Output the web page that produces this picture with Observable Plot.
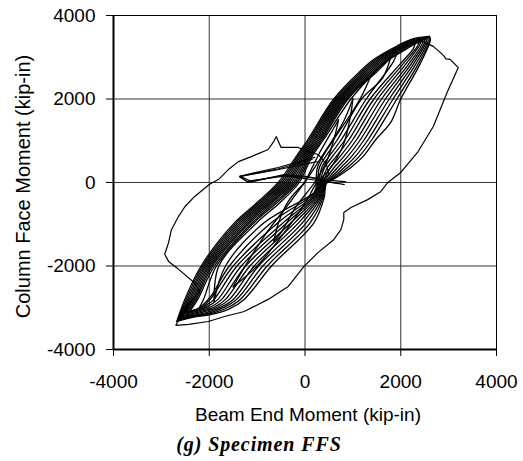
<!DOCTYPE html>
<html>
<head>
<meta charset="utf-8">
<script src="https://cdn.jsdelivr.net/npm/d3@7"></script>
<script src="https://cdn.jsdelivr.net/npm/@observablehq/plot@0.6"></script>
<style>
  html, body { margin: 0; padding: 0; background: #fff; }
</style>
</head>
<body>
<div id="chart"></div>
<script>
// Tick values and text
const xTicks = [-4000, -2000, 0, 2000, 4000];
const yTicks = [-4000, -2000, 0, 2000, 4000];
const xLabel = "Beam End Moment (kip-in)";
const yLabel = "Column Face Moment (kip-in)";
const caption = "(g) Specimen FFS";

// Hysteresis cycles [beam end moment, column face moment] in kip-in
const loopA = [[-2680,-3330],[-2510,-2800],[-2170,-2000],[-1470,-960],[-1000,-480],[-560,0],[-180,630],[60,1030],[600,2000],[1120,2630],[1440,2950],[1920,3270],[2250,3440],[2600,3500],[2620,3420],[2400,2830],[2000,2000],[1790,1440],[1480,1030],[1210,620],[960,360],[600,80],[450,-20],[400,-360],[190,-960],[-700,-2000],[-1270,-2800],[-1600,-3040],[-1950,-3160],[-2300,-3220],[-2680,-3330]];
const loopB = [[-2660,-3300],[-2480,-2800],[-2140,-2000],[-1430,-960],[-960,-480],[-520,0],[-150,630],[90,1030],[630,2000],[1160,2630],[1480,2950],[1940,3260],[2260,3420],[2580,3480],[2600,3400],[2360,2830],[1920,2000],[1400,1030],[1130,620],[890,360],[560,70],[430,-30],[380,-350],[110,-960],[-790,-2000],[-1350,-2800],[-1680,-3030],[-2000,-3150],[-2330,-3210],[-2660,-3300]];
const loopC = [[-2640,-3270],[-2450,-2800],[-2110,-2000],[-1390,-960],[-920,-480],[-480,0],[-120,630],[120,1030],[660,2000],[1200,2630],[1520,2950],[1960,3250],[2270,3400],[2560,3460],[2570,3380],[2310,2830],[1840,2000],[1320,1030],[1050,620],[820,360],[520,60],[410,-40],[360,-340],[30,-960],[-880,-2000],[-1430,-2800],[-1750,-3020],[-2050,-3140],[-2350,-3200],[-2640,-3270]];
const loopD = [[-2620,-3250],[-2420,-2800],[-2080,-2000],[-1350,-960],[-880,-480],[-440,0],[-90,630],[150,1030],[690,2000],[1240,2630],[1560,2950],[1980,3240],[2280,3390],[2530,3440],[2530,3360],[2260,2830],[1760,2000],[1240,1030],[970,620],[750,360],[480,50],[390,-50],[340,-330],[-50,-960],[-970,-2000],[-1500,-2800],[-1800,-3010],[-2100,-3130],[-2380,-3190],[-2620,-3250]];
const loopE = [[-2600,-3220],[-2390,-2800],[-2050,-2000],[-1310,-960],[-840,-480],[-400,0],[-60,630],[180,1030],[720,2000],[1280,2630],[1600,2950],[2000,3230],[2290,3370],[2500,3420],[2490,3330],[2210,2830],[1680,2000],[1160,1030],[890,620],[680,360],[440,40],[370,-60],[320,-320],[-130,-960],[-1060,-2000],[-1580,-2800],[-1850,-3000],[-2150,-3110],[-2400,-3170],[-2600,-3220]];
const loopF = [[-2570,-3190],[-2360,-2800],[-2020,-2000],[-1270,-960],[-800,-480],[-360,0],[-30,630],[210,1030],[750,2000],[1320,2630],[1640,2950],[2020,3220],[2280,3350],[2460,3400],[2440,3300],[2160,2830],[1600,2000],[1080,1030],[810,620],[610,360],[400,30],[350,-70],[300,-310],[-210,-960],[-1150,-2000],[-1660,-2800],[-1900,-2990],[-2180,-3090],[-2400,-3150],[-2570,-3190]];
const loopG = [[-2540,-3160],[-2330,-2800],[-1990,-2000],[-1230,-960],[-760,-480],[-320,0],[0,630],[240,1030],[780,2000],[1360,2630],[1680,2950],[2040,3210],[2270,3330],[2420,3380],[2390,3280],[2100,2830],[1520,2000],[1000,1030],[730,620],[540,360],[370,20],[330,-80],[280,-300],[-290,-960],[-1240,-2000],[-1740,-2800],[-1950,-2970],[-2200,-3070],[-2400,-3120],[-2540,-3160]];
const loopH = [[-2500,-3130],[-2300,-2800],[-1960,-2000],[-1190,-960],[-720,-480],[-280,0],[30,630],[270,1030],[810,2000],[1400,2630],[1720,2950],[2060,3190],[2250,3310],[2380,3350],[2340,3250],[2040,2830],[1440,2000],[920,1030],[650,620],[470,360],[340,10],[310,-90],[260,-290],[-370,-960],[-1330,-2000],[-1820,-2800],[-2000,-2950],[-2220,-3050],[-2380,-3100],[-2500,-3130]];
const loopI = [[-2450,-3100],[-2270,-2800],[-1930,-2000],[-1150,-960],[-680,-480],[-240,0],[60,630],[300,1030],[840,2000],[1440,2630],[1760,2950],[2080,3170],[2300,3320],[2260,3200],[1980,2830],[1360,2000],[840,1030],[570,620],[410,360],[310,0],[290,-100],[240,-280],[-450,-960],[-1420,-2000],[-1900,-2800],[-2050,-2930],[-2250,-3030],[-2450,-3100]];
const loopJ = [[-2410,-3090],[-2240,-2800],[-1890,-2000],[-1100,-960],[-630,-480],[-200,0],[90,630],[330,1030],[870,2000],[1480,2630],[1930,3140],[1850,2900],[1280,2000],[760,1030],[500,620],[350,360],[290,-10],[270,-110],[220,-270],[-560,-960],[-1500,-2000],[-1980,-2800],[-2150,-2980],[-2410,-3090]];
const loopK = [[-2220,-3020],[-2120,-2800],[-1850,-2000],[-1060,-960],[-580,-480],[-160,0],[120,630],[360,1030],[900,2000],[1500,2700],[1790,3000],[1620,2500],[1180,2000],[680,1030],[430,620],[300,360],[260,-20],[250,-120],[200,-260],[-700,-960],[-1580,-2000],[-1950,-2700],[-2100,-2900],[-2220,-3020]];
const loopL = [[-1900,-2850],[-1800,-2000],[-1000,-960],[-520,-480],[-120,0],[150,630],[390,1030],[960,2000],[1370,2540],[1150,2000],[600,1030],[370,620],[260,360],[230,-30],[230,-130],[180,-250],[-850,-960],[-1660,-2000],[-1900,-2850]];
const loopM = [[-1500,-2500],[-1250,-2000],[-800,-1200],[-300,-450],[50,100],[450,800],[800,1450],[1000,2000],[950,1600],[800,900],[500,300],[250,0],[0,-500],[-500,-1300],[-1000,-2000],[-1500,-2500]];
const loopN = [[0,0],[300,700],[600,1300],[700,1500],[620,1100],[450,500],[200,0],[-200,-600],[-500,-1200],[-650,-1400],[-550,-950],[-350,-450],[0,0]];
const finalBranch = [[1800,3150],[2150,3350],[2450,3380],[2680,3260],[2830,3110],[2910,3020],[2940,2960],[3030,2950],[3100,2870],[3200,2750],[2970,2160],[2680,1340],[2350,720],[2000,240],[1730,0],[1580,-220],[1310,-410],[960,-600],[810,-720],[810,-890],[750,-1130],[600,-1370],[270,-1680],[-20,-2010],[-350,-2490],[-770,-2800],[-1270,-3090],[-1680,-3210],[-2020,-3330],[-2430,-3400],[-2700,-3420],[-2450,-2950],[-2200,-2610]];
const leftLoop = [[-2200,-2610],[-2310,-2400],[-2640,-2080],[-2850,-1890],[-2930,-1720],[-2850,-1440],[-2790,-1130],[-2640,-810],[-2510,-580],[-2310,-340],[-2000,-50],[-1810,70],[-1600,310],[-1390,500],[-1120,620],[-770,790],[-665,960],[-600,1100],[-500,840],[-145,840],[60,740],[270,670],[330,600],[450,420],[500,200],[300,0]];
const flagA = [[200,600],[-200,480],[-560,360],[-1370,150],[-1180,0],[-440,190],[0,150],[500,50],[850,20]];
const flagB = [[150,550],[-550,330],[-1370,140],[-1200,20],[-450,170],[100,120],[600,0],[820,-50]];
const flagC = [[250,500],[-600,300],[-1350,150],[-1150,40],[-400,160],[200,60],[700,-30]];

// Smooth cycles are drawn branch by branch (cut at their peaks) so the tips stay sharp
const cycles = [loopN, loopM, loopL, loopK, loopJ, loopI, loopH, loopG, loopF, loopE, loopD, loopC, loopB, loopA];
const jagged = [finalBranch, leftLoop, flagA, flagB, flagC];

const smoothRows = [];
cycles.forEach((pts, k) => {
  const ys = pts.map(p => p[1]);
  const iMax = ys.indexOf(Math.max(...ys));
  const iMin = ys.indexOf(Math.min(...ys));
  const cuts = Array.from(new Set([0, iMax, iMin, pts.length - 1])).sort((a, b) => a - b);
  for (let c = 0; c < cuts.length - 1; c++) {
    for (let i = cuts[c]; i <= cuts[c + 1]; i++) {
      smoothRows.push({x: pts[i][0], y: pts[i][1], k: k + "-" + c});
    }
  }
});
const jaggedRows = jagged.flatMap((pts, k) => pts.map(([x, y]) => ({x, y, k})));

const fmt = d => String(d);

const chart = Plot.plot({
  width: 523,
  height: 461,
  marginLeft: 113,
  marginRight: 27,
  marginTop: 15,
  marginBottom: 112,
  style: {fontFamily: "'Liberation Sans', Arial, sans-serif", fontSize: "19px", background: "#fff", color: "#000"},
  x: {domain: [-4000, 4000], ticks: xTicks, tickFormat: fmt},
  y: {domain: [-4000, 4000], ticks: yTicks, tickFormat: fmt},
  marks: [
    Plot.gridX(xTicks, {stroke: "#333", strokeOpacity: 1, strokeWidth: 1}),
    Plot.gridY(yTicks, {stroke: "#333", strokeOpacity: 1, strokeWidth: 1}),
    Plot.frame({stroke: "#000", strokeWidth: 1}),
    Plot.ruleX([-4000], {stroke: "#000", strokeWidth: 2}),
    Plot.ruleY([-4000], {stroke: "#000", strokeWidth: 2}),
    Plot.line(smoothRows, {x: "x", y: "y", z: "k", stroke: "#000", strokeWidth: 1.3, curve: "catmull-rom"}),
    Plot.line(jaggedRows, {x: "x", y: "y", z: "k", stroke: "#000", strokeWidth: 1.2, strokeLinejoin: "miter"}),
    Plot.axisX(xTicks, {tickSize: 7, tickPadding: 18, fontSize: 19, tickFormat: fmt, label: null, stroke: "#000"}),
    Plot.axisY(yTicks, {tickSize: 7, tickPadding: 11, fontSize: 19, tickFormat: fmt, label: null, stroke: "#000"}),
    Plot.text([xLabel], {frameAnchor: "bottom", lineAnchor: "middle", dx: 3, dy: 65, fontSize: 19, fill: "#000"}),
    Plot.text([yLabel], {frameAnchor: "left", textAnchor: "middle", lineAnchor: "middle", dx: -90, dy: 4, rotate: -90, fontSize: 20, fill: "#000"}),
    Plot.text([caption], {frameAnchor: "bottom", textAnchor: "middle", lineAnchor: "middle", dx: -46, dy: 95, fontFamily: "'Liberation Serif', 'Times New Roman', serif", fontWeight: "bold", fontStyle: "italic", fontSize: 20, fill: "#000"})
  ]
});
d3.select(chart).selectAll("text").filter(function() { return this.textContent === caption; }).attr("letter-spacing", "0.9px");
document.getElementById("chart").appendChild(chart);
</script>
</body>
</html>
